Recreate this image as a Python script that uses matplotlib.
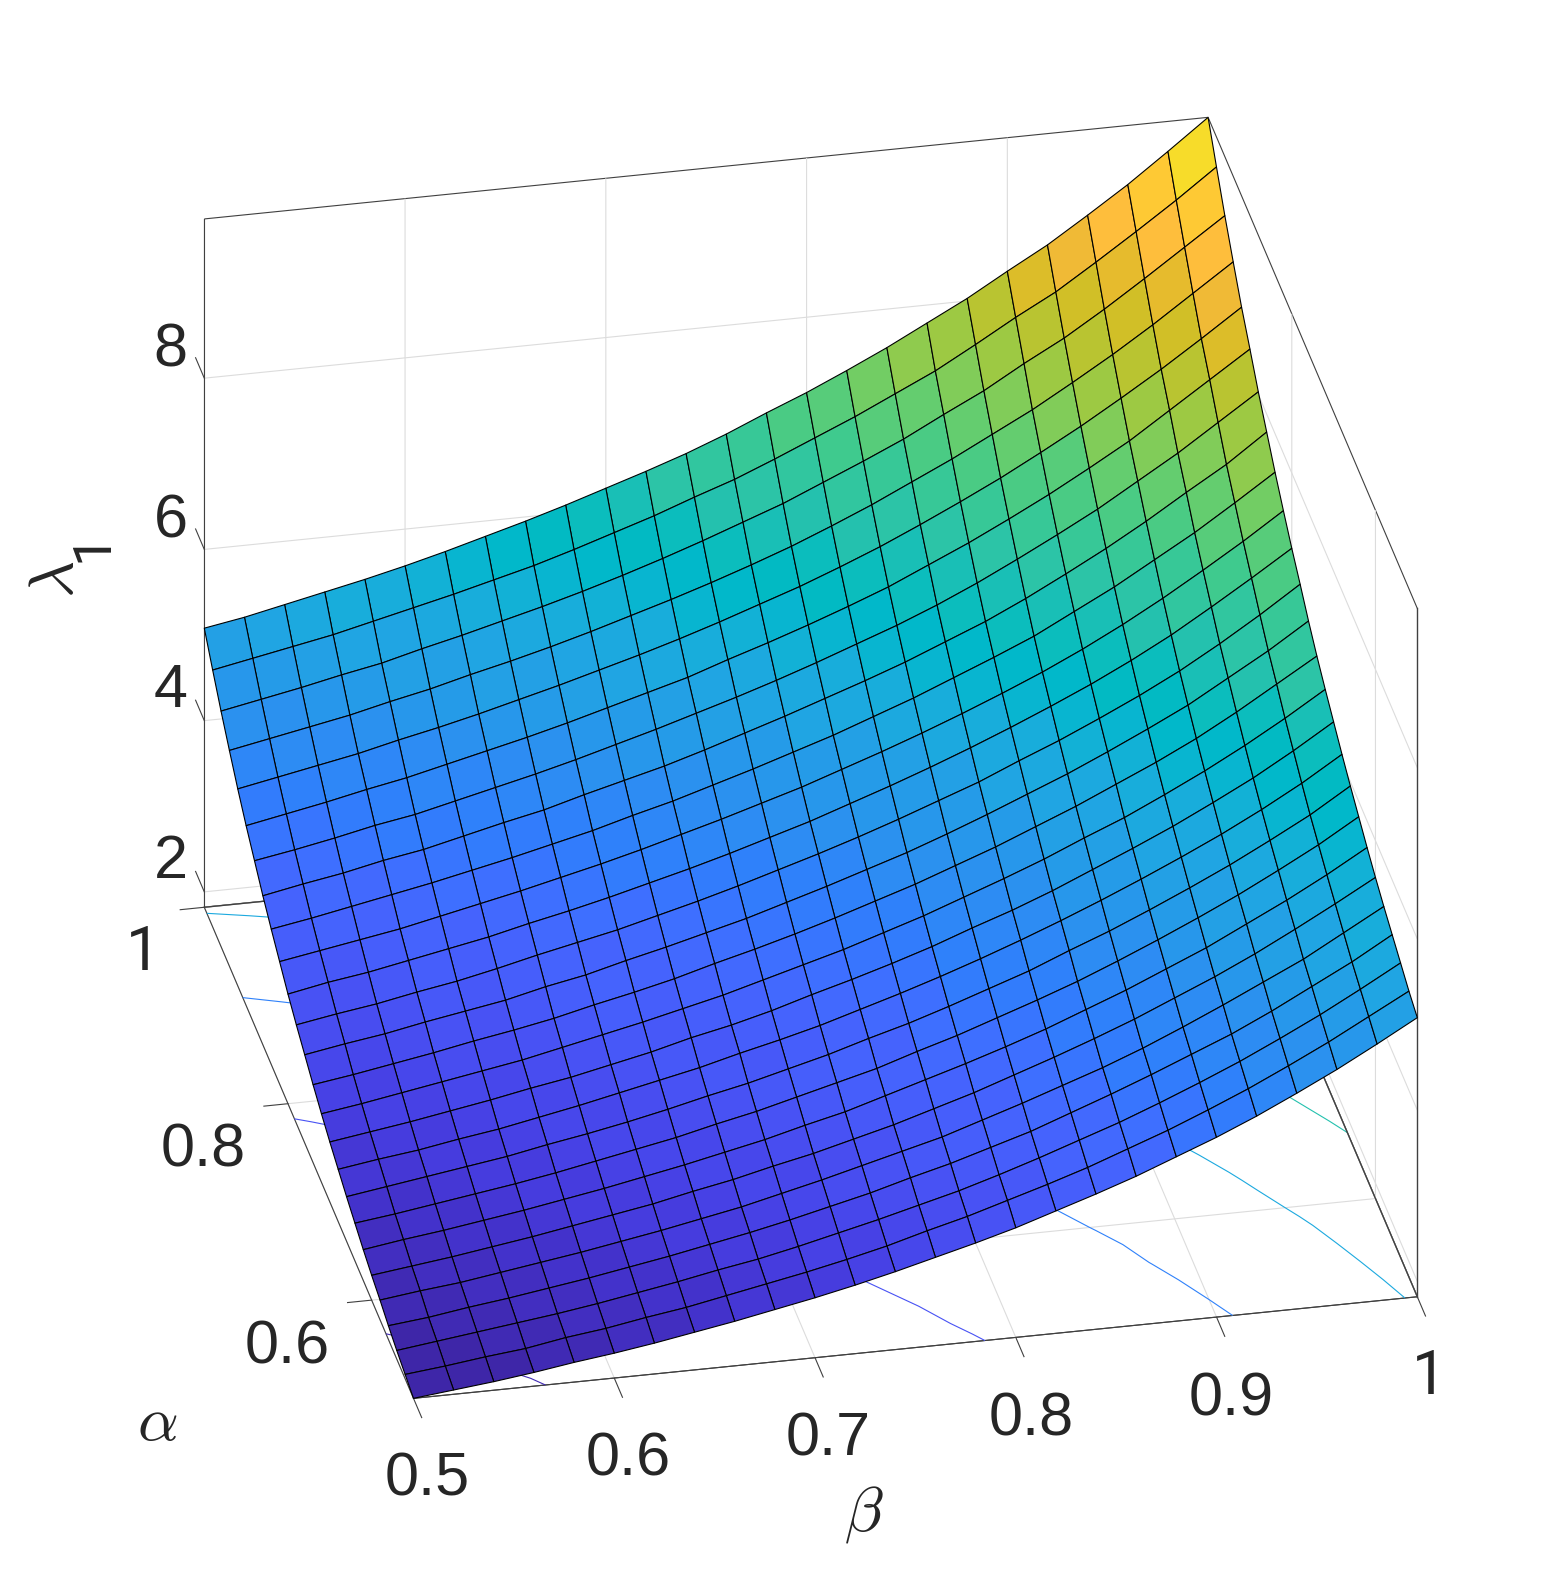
import numpy as np
import matplotlib
matplotlib.use("Agg")
import matplotlib.pyplot as plt
from matplotlib.colors import LinearSegmentedColormap, Normalize

# parula colormap
parula_rgb = [
    [0.2422, 0.1504, 0.6603], [0.2504, 0.1650, 0.7076], [0.2578, 0.1818, 0.7511], [0.2647, 0.1978, 0.7952],
    [0.2706, 0.2147, 0.8364], [0.2751, 0.2342, 0.8710], [0.2783, 0.2559, 0.8991], [0.2803, 0.2782, 0.9221],
    [0.2813, 0.3006, 0.9414], [0.2810, 0.3228, 0.9579], [0.2795, 0.3447, 0.9717], [0.2760, 0.3667, 0.9829],
    [0.2699, 0.3892, 0.9906], [0.2602, 0.4123, 0.9952], [0.2440, 0.4358, 0.9988], [0.2206, 0.4603, 0.9973],
    [0.1963, 0.4847, 0.9892], [0.1834, 0.5074, 0.9798], [0.1786, 0.5289, 0.9682], [0.1764, 0.5499, 0.9520],
    [0.1687, 0.5703, 0.9359], [0.1540, 0.5902, 0.9218], [0.1460, 0.6091, 0.9079], [0.1380, 0.6276, 0.8973],
    [0.1248, 0.6459, 0.8883], [0.1113, 0.6635, 0.8763], [0.0952, 0.6798, 0.8598], [0.0689, 0.6948, 0.8394],
    [0.0297, 0.7082, 0.8163], [0.0036, 0.7203, 0.7917], [0.0067, 0.7312, 0.7660], [0.0433, 0.7411, 0.7394],
    [0.0964, 0.7500, 0.7120], [0.1408, 0.7584, 0.6842], [0.1717, 0.7670, 0.6554], [0.1938, 0.7758, 0.6251],
    [0.2161, 0.7843, 0.5923], [0.2470, 0.7918, 0.5567], [0.2906, 0.7973, 0.5188], [0.3406, 0.8008, 0.4789],
    [0.3909, 0.8029, 0.4354], [0.4456, 0.8024, 0.3909], [0.5044, 0.7993, 0.3480], [0.5616, 0.7942, 0.3045],
    [0.6174, 0.7876, 0.2612], [0.6720, 0.7793, 0.2227], [0.7242, 0.7698, 0.1910], [0.7738, 0.7598, 0.1646],
    [0.8203, 0.7498, 0.1535], [0.8634, 0.7406, 0.1596], [0.9035, 0.7330, 0.1774], [0.9393, 0.7288, 0.2100],
    [0.9728, 0.7298, 0.2394], [0.9956, 0.7434, 0.2371], [0.9970, 0.7659, 0.2199], [0.9952, 0.7893, 0.2028],
    [0.9892, 0.8136, 0.1885], [0.9786, 0.8386, 0.1766], [0.9676, 0.8639, 0.1643], [0.9610, 0.8890, 0.1537],
    [0.9597, 0.9135, 0.1423], [0.9628, 0.9373, 0.1265], [0.9691, 0.9606, 0.1064], [0.9769, 0.9839, 0.0805],
]
parula = LinearSegmentedColormap.from_list("parula", parula_rgb, N=64)

# grid of the surface
alpha = [0.50, 0.52, 0.54, 0.56, 0.58, 0.60, 0.62, 0.64, 0.66, 0.68, 0.70, 0.72, 0.74,
         0.76, 0.78, 0.80, 0.82, 0.84, 0.86, 0.88, 0.90, 0.92, 0.94, 0.96, 0.98, 1.00]
beta = list(alpha)

# lambda_1, it is symmetric in alpha and beta so each row starts at the diagonal
lambda_rows = [
    [1.82, 1.87, 1.92, 1.98, 2.05, 2.11, 2.18, 2.26, 2.34, 2.43, 2.52, 2.62, 2.73, 2.85, 2.97, 3.10, 3.25, 3.40, 3.56, 3.74, 3.92, 4.12, 4.34, 4.57, 4.82, 5.08],
    [1.92, 1.98, 2.03, 2.11, 2.17, 2.25, 2.32, 2.41, 2.50, 2.59, 2.69, 2.80, 2.93, 3.05, 3.19, 3.33, 3.48, 3.65, 3.82, 4.01, 4.21, 4.43, 4.66, 4.91, 5.16],
    [2.04, 2.10, 2.16, 2.23, 2.31, 2.39, 2.48, 2.56, 2.66, 2.77, 2.88, 3.00, 3.12, 3.26, 3.41, 3.57, 3.73, 3.91, 4.10, 4.30, 4.52, 4.75, 5.00, 5.26],
    [2.16, 2.23, 2.30, 2.38, 2.46, 2.55, 2.64, 2.74, 2.85, 2.96, 3.09, 3.21, 3.35, 3.49, 3.66, 3.83, 4.01, 4.20, 4.39, 4.61, 4.85, 5.09, 5.36],
    [2.30, 2.37, 2.45, 2.53, 2.62, 2.71, 2.82, 2.93, 3.05, 3.17, 3.29, 3.44, 3.59, 3.75, 3.91, 4.09, 4.29, 4.50, 4.72, 4.94, 5.20, 5.46],
    [2.45, 2.53, 2.61, 2.71, 2.80, 2.91, 3.01, 3.13, 3.25, 3.39, 3.53, 3.69, 3.85, 4.02, 4.20, 4.40, 4.60, 4.82, 5.06, 5.31, 5.57],
    [2.61, 2.70, 2.79, 2.89, 2.99, 3.11, 3.22, 3.36, 3.50, 3.64, 3.79, 3.95, 4.13, 4.31, 4.51, 4.71, 4.94, 5.17, 5.42, 5.69],
    [2.79, 2.88, 2.99, 3.09, 3.21, 3.33, 3.45, 3.60, 3.74, 3.90, 4.06, 4.23, 4.42, 4.62, 4.83, 5.05, 5.29, 5.54, 5.82],
    [2.98, 3.09, 3.19, 3.31, 3.43, 3.57, 3.70, 3.85, 4.01, 4.17, 4.36, 4.54, 4.74, 4.95, 5.17, 5.41, 5.66, 5.95],
    [3.19, 3.31, 3.42, 3.54, 3.68, 3.82, 3.97, 4.13, 4.30, 4.48, 4.67, 4.87, 5.08, 5.30, 5.54, 5.80, 6.09],
    [3.41, 3.53, 3.67, 3.80, 3.94, 4.09, 4.26, 4.42, 4.60, 4.80, 5.00, 5.21, 5.44, 5.68, 5.95, 6.24],
    [3.66, 3.79, 3.92, 4.07, 4.22, 4.39, 4.56, 4.74, 4.94, 5.13, 5.35, 5.58, 5.83, 6.10, 6.39],
    [3.92, 4.06, 4.21, 4.36, 4.53, 4.70, 4.89, 5.08, 5.29, 5.50, 5.73, 5.99, 6.27, 6.55],
    [4.20, 4.35, 4.50, 4.67, 4.85, 5.04, 5.23, 5.44, 5.66, 5.89, 6.16, 6.43, 6.73],
    [4.50, 4.66, 4.83, 5.00, 5.20, 5.39, 5.60, 5.82, 6.06, 6.33, 6.62, 6.93],
    [4.82, 4.99, 5.17, 5.36, 5.56, 5.77, 6.00, 6.25, 6.53, 6.82, 7.12],
    [5.16, 5.34, 5.53, 5.73, 5.95, 6.19, 6.45, 6.73, 7.02, 7.33],
    [5.53, 5.72, 5.92, 6.16, 6.40, 6.67, 6.94, 7.24, 7.55],
    [5.91, 6.13, 6.37, 6.62, 6.89, 7.18, 7.46, 7.79],
    [6.36, 6.60, 6.85, 7.13, 7.41, 7.72, 8.03],
    [6.84, 7.10, 7.37, 7.68, 7.99, 8.30],
    [7.36, 7.64, 7.93, 8.24, 8.56],
    [7.92, 8.22, 8.54, 8.86],
    [8.53, 8.85, 9.17],
    [9.17, 9.51],
    [9.86],
]
contour_levels = [2, 3, 4, 5, 6, 7, 8, 9]

beta_ticks = [0.5, 0.6, 0.7, 0.8, 0.9, 1.0]
beta_labels = ["0.5", "0.6", "0.7", "0.8", "0.9", "1"]
alpha_ticks = [0.6, 0.8, 1.0]
alpha_labels = ["0.6", "0.8", "1"]
z_ticks = [2, 4, 6, 8]
z_labels = ["2", "4", "6", "8"]

n = len(alpha)
Z = np.zeros((n, n))
for i, row in enumerate(lambda_rows):
    for k, v in enumerate(row):
        Z[i, i + k] = v
        Z[i + k, i] = v
B, A = np.meshgrid(beta, alpha)
zmin, zmax = Z.min(), Z.max()
norm = Normalize(zmin, zmax)

W, H = 1566, 1572
fig = plt.figure(figsize=(W / 100, H / 100), dpi=100)
size = 1336
ax = fig.add_axes([124.75 / W, 128.1 / H, size / W, size / H], projection="3d",
                  proj_type="ortho", computed_zorder=False)
ax.view_init(elev=29.17, azim=-101.73)
ax.set_box_aspect((1025.2, 1029, 788.3), zoom=1.2009)
ax.set_xlim(0.5, 1, view_margin=0)
ax.set_ylim(0.5, 1, view_margin=0)
ax.set_zlim(zmin, zmax, view_margin=0)

ax.contour(B, A, Z, levels=contour_levels, zdir="z", offset=zmin, cmap=parula, norm=norm,
           linewidths=0.8, zorder=1)
# each face takes the colour of its first corner, like a matlab surf
ax.plot_surface(B, A, Z, rcount=n, ccount=n, facecolors=parula(norm(Z)),
                edgecolor="black", linewidth=0.8, shade=False, zorder=3)

# box edges the panes leave out
box = dict(color="#404040", lw=1.0, zorder=2)
ax.plot([1, 1], [0.5, 0.5], [zmin, zmax], **box)
ax.plot([1, 1], [0.5, 1], [zmin, zmin], **box)
ax.plot([0.5, 1], [1, 1], [zmin, zmin], **box)

ax.set_xticks(beta_ticks)
ax.set_yticks(alpha_ticks)
ax.set_zticks(z_ticks)
ax.set_xticklabels([""] * len(beta_ticks))
ax.set_yticklabels([""] * len(alpha_ticks))
ax.set_zticklabels([""] * len(z_ticks))

for axis, out in ((ax.xaxis, -0.49), (ax.yaxis, -0.3), (ax.zaxis, 0.52)):
    axis.set_pane_color((1, 1, 1, 1))
    axis.pane.set_edgecolor("#404040")
    axis.pane.set_linewidth(0.8)
    axis.line.set_color("#404040")
    axis.line.set_linewidth(0.8)
    axis._axinfo["grid"].update(color="#dcdcdc", linewidth=0.8)
    axis._axinfo["tick"].update(inward_factor=0, outward_factor=out, linewidth={True: 0.8, False: 0.8}, color="#404040")
    axis.set_tick_params(color="#404040", width=0.8)
# z ticks run along alpha in the reference
ax.zaxis._get_tickdir = lambda pos=None: 1


def px_text(x, y, s, **kw):
    fig.text(x / W, 1 - y / H, s, ha="center", **kw)


def tick_text(x, y, s):
    # Liberation's 1 has a foot, the reference's does not
    family = "Roboto" if s == "1" else "Liberation Sans"
    px_text(x, y + 21.5, s, family=family, fontsize=44, color="#262626", va="baseline")


for s, x, y in zip(beta_labels, [427, 628.6, 828, 1030.7, 1231.5, 1429], [1474, 1454, 1434, 1414, 1393.5, 1372]):
    tick_text(x, y, s)
for s, x, y in zip(alpha_labels, [286.7, 203.5, 143], [1341.7, 1145, 948]):
    tick_text(x, y, s)
for s, y in zip(z_labels, [856.7, 686, 516, 345]):
    tick_text(170.5, y, s)

plt.rcParams["mathtext.fontset"] = "cm"
px_text(157, 1422, r"$\alpha$", fontsize=46, color="#262626", va="center")
px_text(864, 1514, r"$\beta$", fontsize=46, color="#262626", va="center")
px_text(55, 579, r"$\lambda$", fontsize=46, color="#262626", va="center", rotation=90)
fig.text(93 / W, 1 - 547 / H, "1", family="Roboto", fontsize=39, color="#262626",
         ha="center", va="center", rotation=90)

fig.savefig("out.png", dpi=100)
